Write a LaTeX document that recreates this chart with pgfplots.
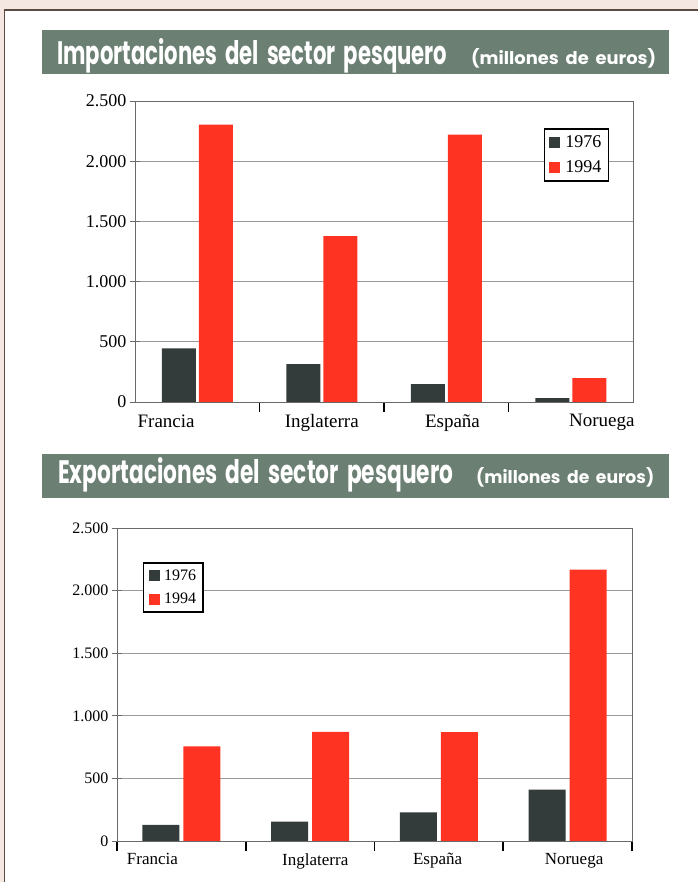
\documentclass[border=0pt]{standalone}
\usepackage{fontspec}
\setmainfont{Liberation Serif}
\newfontfamily\titlefont{Poppins}
\usepackage{pgfplots}
\pgfplotsset{compat=1.18}
\definecolor{barred}{HTML}{FF3322}
\definecolor{bardark}{HTML}{333B3B}
\definecolor{banner}{HTML}{6B7F73}
\definecolor{framec}{HTML}{5A4A42}
\definecolor{outerc}{HTML}{F4E6E1}
\definecolor{gridc}{HTML}{9A9A9A}
\definecolor{axc}{HTML}{6A6A6A}
\newcommand{\ws}{\hspace{0.38em}}

\pgfplotsset{
  sqlegend/.style={legend image code/.code={\fill[#1] (0pt,-5.5pt) rectangle (11pt,5.5pt);}},
  fishstyle/.style={
    scale only axis,
    xmin=-0.5, xmax=3.5, ymin=0, ymax=2500,
    ytick={0,500,1000,1500,2000,2500},
    /pgf/number format/.cd, 1000 sep={.}, assume math mode=true, /pgfplots/.cd,
    ymajorgrids,
    grid style={gridc, line width=0.8pt},
    axis line style={axc, line width=0.9pt},
    tick pos=left,
    xticklabels={},
    major tick length=10pt, tick align=center,
    xtick style={black, line width=1.6pt},
    ytick style={axc, line width=0.8pt},
    extra x tick style={major tick length=0pt},
    extra x tick labels={Francia,Inglaterra,España,Noruega},
    legend cell align=left,
  },
}

\begin{document}
\begin{tikzpicture}[x=1pt,y=1pt]
\useasboundingbox (0,0) rectangle (698,882);
\fill[outerc] (0,0) rectangle (698,882);
\fill[white] (4.5,0) rectangle (698,872);
\draw[framec, line width=1.5pt] (4.5,0) -- (4.5,872) -- (698,872);

% banners
\fill[banner] (42,852) rectangle (669,808);
\node[anchor=base west, inner sep=0pt, text=white] at (57,817)
  {\resizebox{390pt}{26pt}{\titlefont\bfseries Importaciones\ws del\ws sector\ws pesquero}};
\node[anchor=base west, inner sep=0pt, text=white] at (471,817)
  {\resizebox{185pt}{16pt}{\titlefont\bfseries (millones\ws de\ws euros)}};

\fill[banner] (42,428) rectangle (669,384);
\node[anchor=base west, inner sep=0pt, text=white] at (58,398)
  {\resizebox{395pt}{26pt}{\titlefont\bfseries Exportaciones\ws del\ws sector\ws pesquero}};
\node[anchor=base west, inner sep=0pt, text=white] at (476,398)
  {\resizebox{178pt}{16pt}{\titlefont\bfseries (millones\ws de\ws euros)}};

% top chart
\begin{axis}[fishstyle,
  at={(135pt,480pt)}, anchor=south west,
  width=498pt, height=301pt,
  ybar=3pt, bar width=34pt,
  xtick={0.5,1.5,2.5},
  extra x ticks={-0.25,1,2.05,3.25},
  ticklabel style={font=\fontsize{18}{20}\selectfont},
  xticklabel style={font=\fontsize{19}{21}\selectfont, yshift=-9pt},
  legend style={at={(0.952,0.91)}, anchor=north east, draw=black, line width=1.6pt,
    fill=white, font=\fontsize{18}{20}\selectfont, inner sep=5pt, row sep=7pt},
]
\addplot[draw=none, fill=bardark, sqlegend] coordinates {(0,445) (1,315) (2,149) (3,33)};
\addplot[draw=none, fill=barred, sqlegend] coordinates {(0,2304) (1,1378) (2,2221) (3,199)};
\legend{\,1976,\,1994}
\end{axis}

% bottom chart
\begin{axis}[fishstyle,
  at={(117pt,41pt)}, anchor=south west,
  width=515pt, height=313pt,
  ybar=4pt, bar width=37pt,
  xtick={-0.5,0.5,1.5,2.5,3.5},
  extra x ticks={-0.225,1.04,1.99,3.05},
  ticklabel style={font=\fontsize{16}{18}\selectfont},
  xticklabel style={font=\fontsize{17}{19}\selectfont, yshift=-9pt},
  legend style={at={(0.05,0.891)}, anchor=north west, draw=black, line width=1.6pt,
    fill=white, font=\fontsize{16}{18}\selectfont, inner sep=5pt, row sep=7pt},
]
\addplot[draw=none, fill=bardark, sqlegend] coordinates {(0,128) (1,155) (2,229) (3,410)};
\addplot[draw=none, fill=barred, sqlegend] coordinates {(0,755) (1,872) (2,869) (3,2167)};
\legend{\,1976,\,1994}
\end{axis}
\end{tikzpicture}
\end{document}
